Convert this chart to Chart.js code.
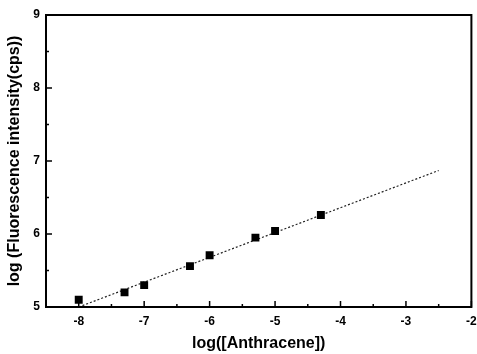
<!DOCTYPE html>
<html>
<head>
<meta charset="utf-8">
<script src="https://cdn.jsdelivr.net/npm/chart.js@4.4.1/dist/chart.umd.min.js"></script>
<style>
  html, body { margin: 0; padding: 0; background: #fff; }
  #wrap { width: 477px; height: 354px; }
</style>
</head>
<body>
<div id="wrap"><canvas id="c" width="477" height="354"></canvas></div>
<script>
// measured points: log[Anthracene] vs log(fluorescence)
const logConc = [-8, -7.3, -7, -6.3, -6, -5.3, -5, -4.3];
const logIntensity = [5.10, 5.20, 5.30, 5.56, 5.71, 5.95, 6.04, 6.26];

// linear fit, drawn between its two end points
const fitX = [-8, -2.5];
const fitY = [5.0, 6.87];

const xTicks = [-8, -7, -6, -5, -4, -3, -2];
const yTicks = [5, 6, 7, 8, 9];

const font = { family: 'Liberation Sans, Arial, sans-serif', weight: 'bold' };

// frame + inward tick marks like the original plot
const framePlugin = {
  id: 'frame',
  afterDraw(chart) {
    const { ctx, chartArea: a, scales: { x, y } } = chart;
    ctx.save();
    ctx.strokeStyle = '#000';
    ctx.lineWidth = 2;
    ctx.strokeRect(a.left, a.top, a.right - a.left, a.bottom - a.top);
    ctx.lineWidth = 1.5;
    ctx.beginPath();
    xTicks.forEach(v => {
      const px = x.getPixelForValue(v);
      ctx.moveTo(px, a.bottom); ctx.lineTo(px, a.bottom - 6);
      const mx = x.getPixelForValue(v - 0.5);
      ctx.moveTo(mx, a.bottom); ctx.lineTo(mx, a.bottom - 3);
    });
    yTicks.forEach(v => {
      const py = y.getPixelForValue(v);
      ctx.moveTo(a.left, py); ctx.lineTo(a.left + 6, py);
      if (v < 9) {
        const my = y.getPixelForValue(v + 0.5);
        ctx.moveTo(a.left, my); ctx.lineTo(a.left + 3, my);
      }
    });
    ctx.stroke();
    ctx.restore();
  }
};

new Chart(document.getElementById('c'), {
  type: 'scatter',
  data: {
    datasets: [
      {
        data: logConc.map((v, i) => ({ x: v, y: logIntensity[i] })),
        pointStyle: 'rect',
        pointRadius: 5.6,
        backgroundColor: '#000',
        borderColor: '#000',
        borderWidth: 0
      },
      {
        type: 'line',
        data: fitX.map((v, i) => ({ x: v, y: fitY[i] })),
        borderColor: '#222',
        borderWidth: 1.2,
        borderDash: [2, 2],
        pointRadius: 0,
        fill: false
      }
    ]
  },
  plugins: [framePlugin],
  options: {
    responsive: false,
    animation: false,
    layout: { padding: { top: 15, right: 4, left: 0, bottom: 0 } },
    plugins: { legend: { display: false }, tooltip: { enabled: false } },
    scales: {
      x: {
        type: 'linear',
        min: -8.5,
        max: -2,
        grid: { display: false, drawTicks: false },
        border: { display: false },
        afterBuildTicks: s => { s.ticks = xTicks.map(v => ({ value: v })); },
        afterFit: s => { s.height = 47; s.paddingRight = 0; },
        ticks: { color: '#000', font: { ...font, size: 12 }, padding: 7 },
        title: {
          display: true,
          text: 'log([Anthracene])',
          color: '#000',
          font: { ...font, size: 16 },
          padding: { top: 10, bottom: 1 }
        }
      },
      y: {
        type: 'linear',
        min: 5,
        max: 9,
        grid: { display: false, drawTicks: false },
        border: { display: false },
        afterBuildTicks: s => { s.ticks = yTicks.map(v => ({ value: v })); },
        afterFit: s => { s.width = 46; },
        ticks: { color: '#000', font: { ...font, size: 12 }, padding: 6 },
        title: {
          display: true,
          text: 'log (Fluorescence intensity(cps))',
          color: '#000',
          font: { ...font, size: 16 },
          padding: { top: 5, bottom: 5 }
        }
      }
    }
  }
});
</script>
</body>
</html>
